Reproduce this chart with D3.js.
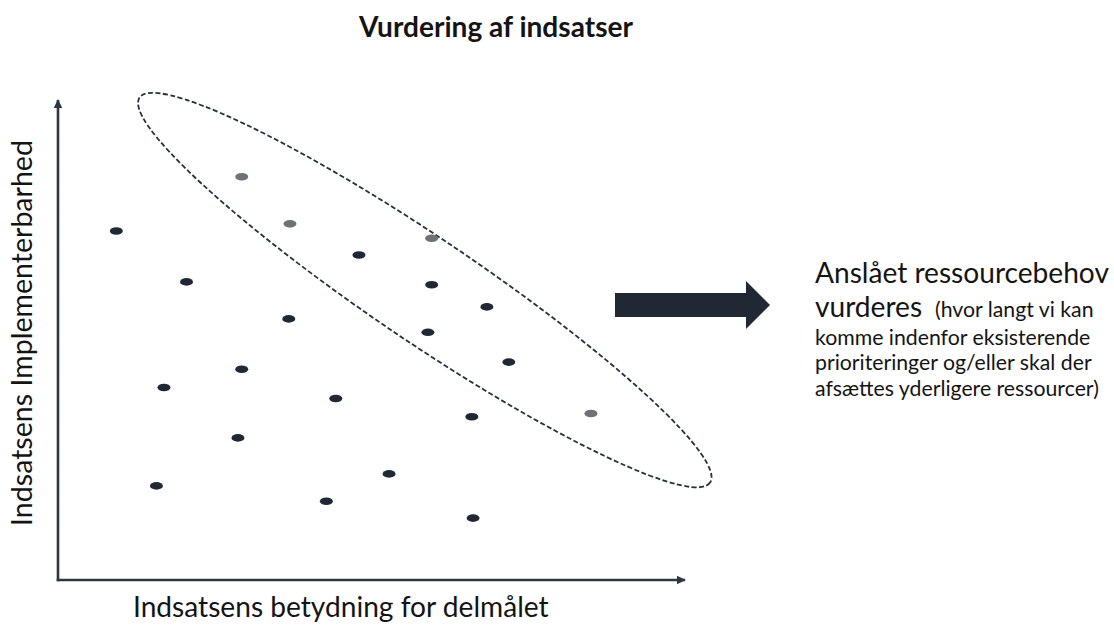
<!DOCTYPE html>
<html>
<head>
<meta charset="utf-8">
<script src="https://cdn.jsdelivr.net/npm/d3@7"></script>
<style>
  html, body { margin: 0; padding: 0; background: #fff; }
  svg { display: block; font-family: Lato, "Open Sans", sans-serif; }
</style>
</head>
<body>
<div id="chart"></div>
<script>
// =======================
// Vurdering af indsatser
// =======================

const W = 1114;
const H = 626;

// ---------- Data (0-100 on both axes) ----------
// highlighted (grey) initiatives
const greyX = [29.3, 37.0, 59.6, 85.0];
const greyY = [84.0, 74.2, 71.2, 34.7];

// other initiatives
const darkX = [9.3, 20.5, 48.0, 59.6, 68.4, 36.8, 59.0, 71.9, 16.9, 29.3, 44.3, 66.0, 28.7, 52.8, 15.7, 42.8, 66.2];
const darkY = [72.7, 62.1, 67.7, 61.5, 56.9, 54.4, 51.6, 45.4, 40.1, 43.9, 37.8, 34.0, 29.6, 22.1, 19.6, 16.4, 12.9];

// ends of the long axis of the dashed group ring
const ringX = [13.0, 104.0];
const ringY = [100.5, 20.3];

const title = "Vurdering af indsatser";
const xLabel = "Indsatsens betydning for delmålet";
const yLabel = "Indsatsens Implementerbarhed";
const noteHead = ["Anslået ressourcebehov", "vurderes"];
const noteInline = "(hvor langt vi kan";
const noteLines = ["komme indenfor eksisterende", "prioriteringer og/eller skal der", "afsættes yderligere ressourcer)"];

// ---------- Colours ----------
const AXIS = "#2c3744";
const DARK = "#1f2833";
const GREY = "#6e7276";
const INK = "#141414";

// ---------- Helpers ----------
// scale the font size so the text gets a given width
function fitWidth(sel, target) {
  const fs = parseFloat(sel.attr("font-size"));
  const w = sel.node().getComputedTextLength();
  sel.attr("font-size", fs * target / w);
  return fs * target / w;
}

// ---------- SVG ----------
const svg = d3.select("#chart")
  .append("svg")
  .attr("width", W)
  .attr("height", H);

const x = d3.scaleLinear().domain([0, 100]).range([58, 685]);
const y = d3.scaleLinear().domain([0, 100]).range([580, 100]);

// arrow heads for the axes
svg.append("defs").append("marker")
  .attr("id", "head")
  .attr("markerUnits", "userSpaceOnUse")
  .attr("viewBox", "0 0 9 9")
  .attr("markerWidth", 9)
  .attr("markerHeight", 9)
  .attr("refX", 8)
  .attr("refY", 4.5)
  .attr("orient", "auto")
  .append("path")
  .attr("d", "M0,0.3L9,4.5L0,8.7Z")
  .attr("fill", AXIS);

// axes without ticks, only the domain line + arrow
const gx = svg.append("g")
  .attr("transform", `translate(0,${y(0)})`)
  .call(d3.axisBottom(x).tickValues([]).tickSizeOuter(0));

const gy = svg.append("g")
  .attr("transform", `translate(${x(0)},0)`)
  .call(d3.axisLeft(y).tickValues([]).tickSizeOuter(0));

[gx, gy].forEach(g => {
  g.select(".domain")
    .attr("stroke", AXIS)
    .attr("stroke-width", 2.6)
    .attr("marker-end", "url(#head)");
});

// run paths outward so the arrow sits at the far end
gy.select(".domain").attr("d", `M0,${y(0) + 1.3}V${y(100)}`);
gx.select(".domain").attr("d", `M${x(0) - 1.3},0H${x(100)}`);

// ---------- Dashed ring round the grey group ----------
const p1 = [x(ringX[0]), y(ringY[0])];
const p2 = [x(ringX[1]), y(ringY[1])];
const cx = (p1[0] + p2[0]) / 2;
const cy = (p1[1] + p2[1]) / 2;
const ang = Math.atan2(p2[1] - p1[1], p2[0] - p1[0]) * 180 / Math.PI;
const semiMajor = Math.hypot(p2[0] - p1[0], p2[1] - p1[1]) / 2;

svg.append("ellipse")
  .attr("transform", `translate(${cx},${cy}) rotate(${ang})`)
  .attr("rx", semiMajor)
  .attr("ry", 52)
  .attr("fill", "none")
  .attr("stroke", "#27313c")
  .attr("stroke-width", 1.8)
  .attr("stroke-dasharray", "5,2.5");

// ---------- Points ----------
const dark = darkX.map((v, i) => ({ x: v, y: darkY[i] }));
const grey = greyX.map((v, i) => ({ x: v, y: greyY[i] }));

svg.append("g").selectAll("ellipse")
  .data(dark)
  .enter()
  .append("ellipse")
  .attr("cx", d => x(d.x))
  .attr("cy", d => y(d.y))
  .attr("rx", 6.5)
  .attr("ry", 3.8)
  .attr("fill", DARK);

svg.append("g").selectAll("ellipse")
  .data(grey)
  .enter()
  .append("ellipse")
  .attr("cx", d => x(d.x))
  .attr("cy", d => y(d.y))
  .attr("rx", 6.5)
  .attr("ry", 3.8)
  .attr("fill", GREY);

// ---------- Texts ----------
const tTitle = svg.append("text")
  .attr("x", 496)
  .attr("y", 37)
  .attr("text-anchor", "middle")
  .attr("font-size", 20)
  .attr("font-weight", "bold")
  .attr("fill", INK)
  .text(title);
fitWidth(tTitle, 274);

const tx = svg.append("text")
  .attr("x", 133)
  .attr("y", 617)
  .attr("font-size", 26)
  .attr("fill", INK)
  .text(xLabel);
fitWidth(tx, 416);

const ty = svg.append("text")
  .attr("transform", "translate(32,333) rotate(-90)")
  .attr("text-anchor", "middle")
  .attr("font-size", 26)
  .attr("fill", INK)
  .text(yLabel);
fitWidth(ty, 386);

// big arrow pointing to the note
svg.append("path")
  .attr("d", "M615,293H746V281L770,305L746,329V317H615Z")
  .attr("fill", DARK);

const h1 = svg.append("text")
  .attr("x", 815)
  .attr("y", 283)
  .attr("font-size", 26)
  .attr("fill", INK)
  .text(noteHead[0]);
const headSize = fitWidth(h1, 294);

svg.append("text")
  .attr("x", 815)
  .attr("y", 317)
  .attr("font-size", headSize)
  .attr("fill", INK)
  .text(noteHead[1]);

const last = svg.append("text")
  .attr("x", 815)
  .attr("y", 396)
  .attr("font-size", 18)
  .attr("fill", INK)
  .text(noteLines[2]);
const smallSize = fitWidth(last, 284);

svg.append("text")
  .attr("x", 935)
  .attr("y", 317)
  .attr("font-size", smallSize)
  .attr("fill", INK)
  .text(noteInline);

svg.append("text")
  .attr("x", 815)
  .attr("y", 345)
  .attr("font-size", smallSize)
  .attr("fill", INK)
  .text(noteLines[0]);

svg.append("text")
  .attr("x", 815)
  .attr("y", 370)
  .attr("font-size", smallSize)
  .attr("fill", INK)
  .text(noteLines[1]);
</script>
</body>
</html>
